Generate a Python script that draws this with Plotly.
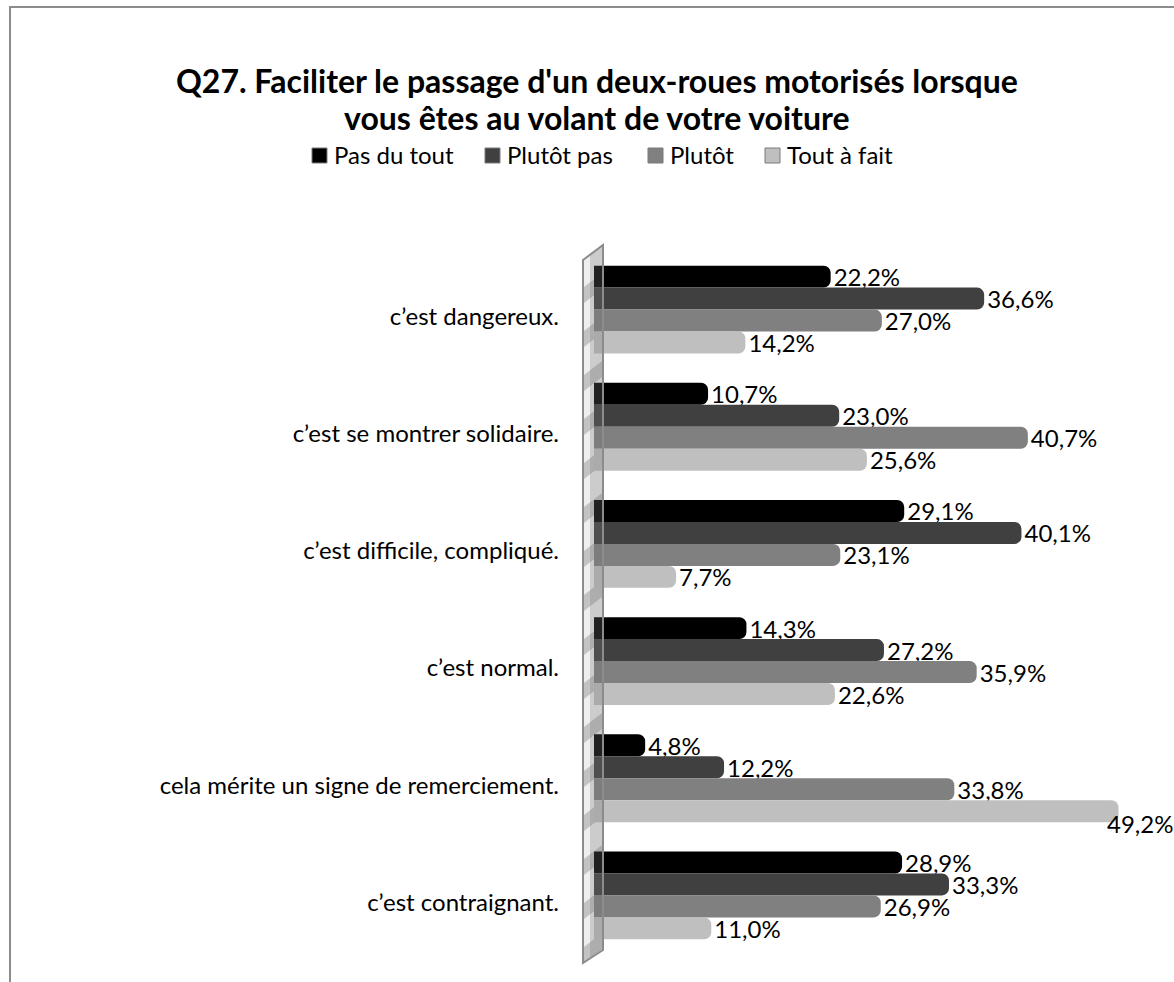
import plotly.graph_objects as go

# ── Data ─────────────────────────────────────────────────────────────────────
CATEGORIES = [
    "c’est dangereux.",
    "c’est se montrer solidaire.",
    "c’est difficile, compliqué.",
    "c’est normal.",
    "cela mérite un signe de remerciement.",
    "c’est contraignant.",
]
SERIES = ["Pas du tout", "Plutôt pas", "Plutôt", "Tout à fait"]
PAS_DU_TOUT = [22.2, 10.7, 29.1, 14.3, 4.8, 28.9]
PLUTOT_PAS = [36.6, 23.0, 40.1, 27.2, 12.2, 33.3]
PLUTOT = [27.0, 40.7, 23.1, 35.9, 33.8, 26.9]
TOUT_A_FAIT = [14.2, 25.6, 7.7, 22.6, 49.2, 11.0]

TITLE_LINES = ["Q27. Faciliter le passage d'un deux-roues motorisés lorsque",
               "vous êtes au volant de votre voiture"]

# ── Style ────────────────────────────────────────────────────────────────────
W, H = 1174, 982
M_L, M_R, M_T, M_B = 594, 47, 251, 28
X_MAX = 50
_FONT = "Lato, 'Open Sans', sans-serif"
_COLORS = ["#000000", "#404040", "#808080", "#bfbfbf"]
_EDGE = "#8c8c8c"
BAR_GAP = 0.25


def P(px, py):
    """pixel -> paper coordinates"""
    pw, ph = W - M_L - M_R, H - M_T - M_B
    return (px - M_L) / pw, 1 - (py - M_T) / ph


def path(points):
    pts = [P(x, y) for x, y in points]
    return "M " + " L ".join(f"{x:.5f},{y:.5f}" for x, y in pts) + " Z"


def pct(v):
    return f"{v:.1f}%".replace(".", ",")


px_per_unit = (W - M_L - M_R) / X_MAX
cat_h = (H - M_T - M_B) / len(CATEGORIES)
bar_h = cat_h * (1 - BAR_GAP) / len(SERIES)

fig = go.Figure()
annotations = []
all_series = [PAS_DU_TOUT, PLUTOT_PAS, PLUTOT, TOUT_A_FAIT]
for k, (name, vals, col) in enumerate(zip(SERIES, all_series, _COLORS)):
    # labels that would run past the right edge are drawn as annotations
    fits = [M_L + v * px_per_unit + 68 < W for v in vals]
    fig.add_trace(go.Bar(
        name=name,
        y=CATEGORIES,
        x=vals,
        orientation="h",
        marker=dict(color=col, cornerradius=7, line=dict(width=0)),
        text=[pct(v) if f else "" for v, f in zip(vals, fits)],
        textposition="outside",
        textfont=dict(color="#000000", size=24, family=_FONT),
        constraintext="none",
        cliponaxis=False,
        showlegend=False,
    ))
    for cat, v, f in zip(CATEGORIES, vals, fits):
        if not f:
            annotations.append(dict(
                x=v, y=cat, xref="x", yref="y", text=pct(v), showarrow=False,
                xanchor="left", yanchor="middle", xshift=-13,
                yshift=-(k - (len(SERIES) - 1) / 2) * bar_h - 12,
                font=dict(color="#000000", size=24, family=_FONT),
            ))

shapes = []
# outer chart border (cropped at right / bottom)
x0, y0 = P(10, 7)
x1, y1 = P(1200, 1000)
shapes.append(dict(type="rect", xref="paper", yref="paper", x0=x0, y0=y0, x1=x1, y1=y1,
                   line=dict(color=_EDGE, width=2), fillcolor="rgba(0,0,0,0)", layer="below"))

# 3D wall behind the category axis
wall = [(583, 260), (603, 245), (603, 950), (583, 963)]
shapes.append(dict(type="path", xref="paper", yref="paper", path=path(wall),
                   fillcolor="rgba(238,238,238,1)", line=dict(width=0), layer="below"))
for yy in range(275, 955, 44):
    stripe = [(584, yy + 12), (602, yy - 2), (602, yy + 14), (584, yy + 28)]
    shapes.append(dict(type="path", xref="paper", yref="paper", path=path(stripe),
                       fillcolor="rgba(160,160,160,0.55)", line=dict(width=0), layer="below"))
face = [(590, 255), (603, 245), (603, 950), (590, 958)]
shapes.append(dict(type="path", xref="paper", yref="paper", path=path(face),
                   fillcolor="rgba(120,120,120,0.28)", line=dict(width=0), layer="above"))
shapes.append(dict(type="path", xref="paper", yref="paper", path=path(wall),
                   fillcolor="rgba(0,0,0,0)", line=dict(color=_EDGE, width=2), layer="above"))

# title (two centred lines)
for text, py in zip(TITLE_LINES, [80, 118]):
    ax, ay = P(597, py)
    annotations.append(dict(
        x=ax, y=ay, xref="paper", yref="paper", text=f"<b>{text}</b>", showarrow=False,
        xanchor="center", yanchor="middle",
        font=dict(family=_FONT, size=32, color="#000000"),
    ))

# legend drawn by hand: small square + label
LEGEND_BOX_X = [312, 485, 648, 765]
for name, col, bx in zip(SERIES, _COLORS, LEGEND_BOX_X):
    sx0, sy0 = P(bx, 148)
    sx1, sy1 = P(bx + 15, 163)
    shapes.append(dict(type="rect", xref="paper", yref="paper", x0=sx0, y0=sy0, x1=sx1, y1=sy1,
                       fillcolor=col, line=dict(color="#7a7a7a", width=1)))
    tx, ty = P(bx + 20, 155)
    annotations.append(dict(
        x=tx, y=ty, xref="paper", yref="paper", text=name, showarrow=False,
        xanchor="left", yanchor="middle",
        font=dict(family=_FONT, size=24, color="#000000"),
    ))

fig.update_layout(
    width=W,
    height=H,
    paper_bgcolor="#ffffff",
    plot_bgcolor="rgba(0,0,0,0)",
    font=dict(family=_FONT, color="#000000", size=24),
    margin=dict(l=M_L, r=M_R, t=M_T, b=M_B),
    barmode="group",
    bargap=BAR_GAP,
    bargroupgap=0,
    showlegend=False,
    xaxis=dict(range=[0, X_MAX], visible=False, showgrid=False, zeroline=False),
    yaxis=dict(
        autorange="reversed",
        showgrid=False,
        zeroline=False,
        showline=False,
        ticks="",
        ticklabelstandoff=34,
        ticklabelshift=-7,
        tickfont=dict(family=_FONT, size=24, color="#000000"),
    ),
    shapes=shapes,
    annotations=annotations,
)

fig.write_html(
    "out.html",
    config={"displayModeBar": False},
    post_script="document.body.style.margin='0';document.body.style.overflow='hidden';",
)
